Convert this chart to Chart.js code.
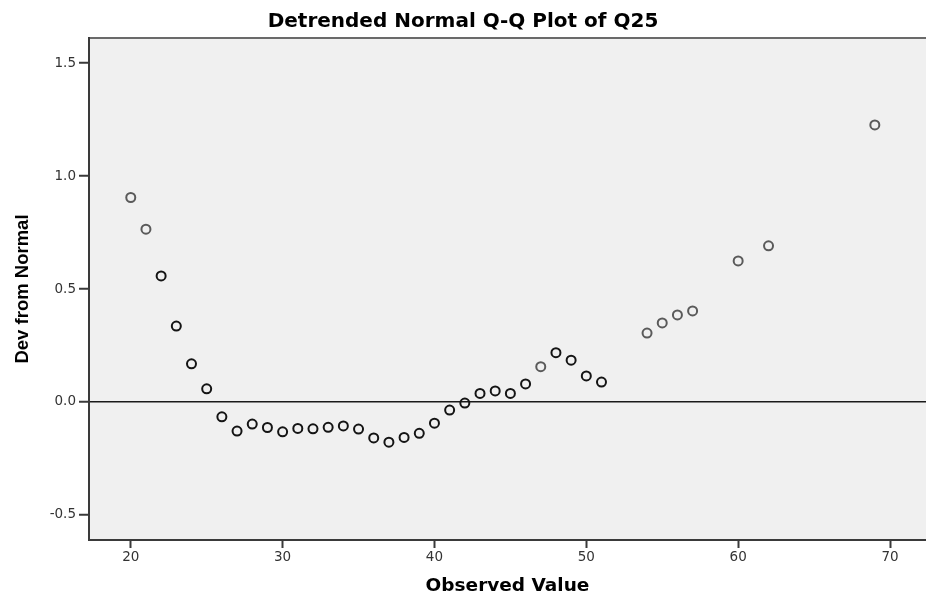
<!DOCTYPE html>
<html>
<head>
<meta charset="utf-8">
<script src="https://cdn.jsdelivr.net/npm/chart.js@4"></script>
<style>
  html, body { margin: 0; padding: 0; background: #fff; }
  #wrap { width: 926px; height: 596px; position: relative; }
</style>
</head>
<body>
<div id="wrap"><canvas id="qq"></canvas></div>
<script>
const observed = [20, 21, 22, 23, 24, 25, 26, 27, 28, 29, 30, 31, 32, 33, 34, 35, 36, 37, 38, 39,
                  40, 41, 42, 43, 44, 45, 46, 47, 48, 49, 50, 51, 54, 55, 56, 57, 60, 62, 69];
const deviation = [0.905, 0.765, 0.558, 0.336, 0.169, 0.058, -0.066, -0.129, -0.098, -0.113,
                   -0.132, -0.117, -0.119, -0.112, -0.106, -0.120, -0.159, -0.178, -0.157, -0.139,
                   -0.094, -0.036, -0.005, 0.038, 0.049, 0.038, 0.080, 0.156, 0.218, 0.185,
                   0.115, 0.088, 0.305, 0.350, 0.385, 0.403, 0.624, 0.691, 1.226];
// points drawn with a lighter outline in the original
const lightPoints = [20, 21, 47, 54, 55, 56, 57, 60, 62, 69];

const xRange = [17.25, 72.37];
const yRange = [-0.611, 1.611];

const WIDE = "'DejaVu Sans', Verdana, sans-serif";
const ARIAL = "'Liberation Sans', Arial, sans-serif";

// grey plot area and its top edge
const plotFrame = {
    id: 'plotFrame',
    beforeDraw(chart) {
        const { ctx, chartArea: a } = chart;
        ctx.save();
        ctx.fillStyle = '#f0f0f0';
        ctx.fillRect(a.left, a.top, a.right - a.left, a.bottom - a.top);
        ctx.strokeStyle = '#6a6a6a';
        ctx.lineWidth = 2;
        ctx.beginPath();
        ctx.moveTo(a.left, a.top);
        ctx.lineTo(a.right, a.top);
        ctx.stroke();
        ctx.restore();
    }
};

new Chart(document.getElementById('qq'), {
    type: 'scatter',
    data: {
        datasets: [{
            data: observed.map((x, i) => ({ x: x, y: deviation[i] })),
            pointRadius: 4.5,
            pointHoverRadius: 4.5,
            pointBorderWidth: 2,
            pointBackgroundColor: 'rgba(0,0,0,0)',
            pointBorderColor: (c) => {
                const p = c.raw;
                return p && lightPoints.includes(p.x) ? '#5a5a5a' : '#141414';
            }
        }]
    },
    plugins: [plotFrame],
    options: {
        responsive: true,
        maintainAspectRatio: false,
        animation: false,
        layout: { padding: 0, autoPadding: false },
        plugins: {
            legend: { display: false },
            tooltip: { enabled: false },
            title: {
                display: true,
                text: 'Detrended Normal Q-Q Plot of Q25',
                color: '#000',
                font: { family: WIDE, size: 20, weight: 'bold', lineHeight: 1.2 },
                padding: { top: 10, bottom: 4 }
            }
        },
        scales: {
            x: {
                type: 'linear',
                min: xRange[0],
                max: xRange[1],
                afterFit(scale) {
                    scale.height = 56;
                    scale.paddingLeft = 0;
                    scale.paddingRight = 0;
                },
                border: { display: true, color: '#3a3a3a', width: 2 },
                grid: {
                    drawOnChartArea: false,
                    tickLength: 8,
                    tickColor: '#3a3a3a',
                    tickWidth: 2
                },
                ticks: {
                    stepSize: 10,
                    includeBounds: false,
                    padding: 1,
                    maxRotation: 0,
                    color: '#333',
                    font: { family: WIDE, size: 13.5 }
                },
                title: {
                    display: true,
                    text: 'Observed Value',
                    color: '#000',
                    font: { family: WIDE, size: 18.5, weight: 'bold', lineHeight: 1 },
                    padding: { top: 0, bottom: 1 }
                }
            },
            y: {
                type: 'linear',
                min: yRange[0],
                max: yRange[1],
                afterFit(scale) { scale.width = 89; },
                border: { display: true, color: '#3a3a3a', width: 2 },
                grid: {
                    drawOnChartArea: true,
                    color: (c) => (c.tick && c.tick.value === 0 ? '#1a1a1a' : 'rgba(0,0,0,0)'),
                    lineWidth: 1.5,
                    tickLength: 10,
                    tickColor: '#3a3a3a',
                    tickWidth: 2
                },
                ticks: {
                    stepSize: 0.5,
                    includeBounds: false,
                    padding: 3,
                    color: '#333',
                    font: { family: WIDE, size: 13.5 },
                    callback: (v) => v.toFixed(1)
                },
                title: {
                    display: true,
                    text: 'Dev from Normal',
                    color: '#000',
                    font: { family: ARIAL, size: 18.5, weight: 'bold', lineHeight: 1.2 },
                    padding: { top: 12, bottom: 0 }
                }
            }
        }
    }
});
</script>
</body>
</html>
